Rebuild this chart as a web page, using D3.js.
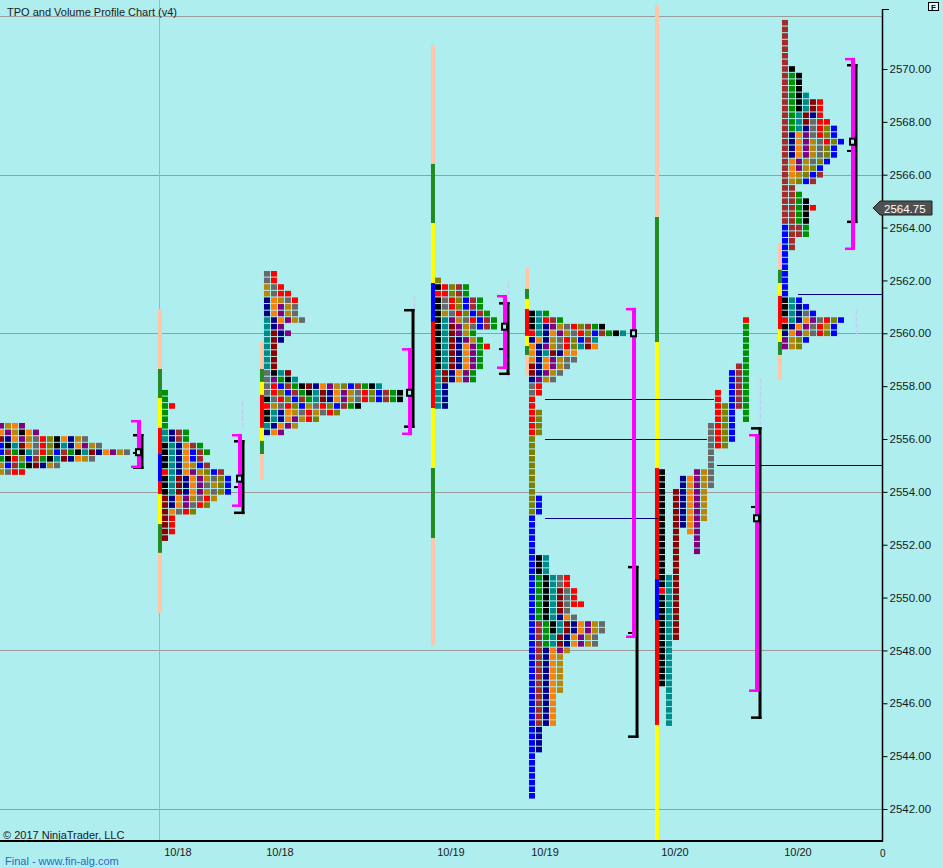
<!DOCTYPE html>
<html><head><meta charset="utf-8">
<script src="https://cdn.jsdelivr.net/npm/d3@7/dist/d3.min.js"></script>
<style>html,body{margin:0;padding:0;background:#AFEEEE;overflow:hidden}text{font-family:"Liberation Sans",Arial,sans-serif}</style>
</head><body><svg id="c" width="943" height="868"></svg>
<script>
// ---------- DATA ----------
// TPO letters: each char is one TPO period colour, '.' = empty cell
const profileA = ["PGOP","OPGKOP","MNOPGYRLKONGY","BKTMOYRLKTNOPGY","BrgKTYRLBrgKTMNOPGY","gKRLBrgKTMNOGY","GBrgKMNGY","GYRR"];
const profileB = ["g","g","gR","g","g","g","TNrg","TNrg","KTNOrg","KTNOBrg","KTNOBr","KTNOGBr","RTNOPGLBr","KTMNOPGYLB","KTMNOPYGLB","KTMNOPGYLB","MNOPGYRG","MNOPYRL","MOYRL","MR","MR","MR","M"];
const profileC = ["YR","YR","GYR","GYRR","NOGYR","NOPGY","NOPGY","TNOPGY","TNP","TMNP","TMN","TM","TM","TM","TM","YKTM","YPgKT","YRBrgKMNOPGLBrgKT","YRLBrgKTMNOPGYRLBrgK","KYRLBrgTMNOPGYRLBrgK","RGYRLBGYRLBrgK","KTNOGYRGYRL","KTNOPGRL","TNOPG","NOP"];
const profileD = ["L","KRLrg","RRLrg","KYRLBrg","KYRLBrg","KGYRLBrg","KTPGYRBrg","KTMPGYBrg","KTMPGg","KTMNPGg","KTMNOPgR","KTMNOPg","KTMNOPg","KTMNOPg","TMNOPg","TMNOPg","TN","TN","TN","TN"];
const profileE = ["KTg","KTRrg","KTNPGYRLrgK","RTNOPGYRLBrgKT","NONGYRLBrT","ONPGYRLTMO","ONTMNOO","ONOPGYY","MNOPGY","MNPGY","NPGY","YR","YR","R","R",
  "RL","RL","RL","RL","L","L","L","L","L","L","L","L","L","LB","LB","LB","B","B","B","B","B","B","BKT","BKT","BKT",
  "BgKTYR","BgKTYR","BgKTMYR","BgKTMYR","BgKTMYRR","BgKTMY","BgKTNOY","BrgKTMNOPGY","BrgKTMNOPGY","BrgTMNOPGY","BrgTMNOPGY",
  "BrNOPG","BrNOG","BrNOG","BrNOG","BrNOG","BrNOG","BrNOG","BrNO","BrNO","BrNO","BrNO","BrNO","BN","BN","BN","BN","B","B","B","B","B","B","B"];
const profileF = ["............R","............g","............g","............g","............g","............g","............g",
  "...........rg","..........Brg","..........Brg","..........Brg","........R.Brg","........R.Brg","........RLBrg","........RLB.g","........RLB.g",
  ".......YRLB",".......YRLB",".......YRLB",".......YRL",".......Y",".......Y",".......Y","K....PGY","K..NOPGY","K..NOPGY",
  "K.MNOPG","K.MNOPG","K.MNOPG","K.MNOPG","K.MNOPG","K.MNOP","K.M.OP","K.M..P","K.M..P","K.M..P","K.M","K.M","K.M",
  "KTM","KTM","RTM","KTM","KTM","KTM","KTM","KTM","KTM","KTM","KT","KT","KT","KT","KT","KT","KT",".T",".T",".T",".T",".T",".T"];
const profileG = ["r","r","r","r","r","r","r","rK","rgK","rgK","rgK","rgKT","rgKTMR","rgKTMR","rgTMNR","rgTMYRR","rgTNYRLB","rNOPYRLB","rNOPGYRLB","rNOPGYLB","rNOPGYLB",
  "rOPGYLB","rOPGLB","rOGLBr","rGLBr","rr","rrg","rrgK","rrgKR","rrgK","rrgK","Brrg","Brrg","Br","Br","B","B","B","B","B","B","B",
  "KTB","KTNB","KTNYB","RTNOPYRLB","KNOPYRGB","NOPGYRLB","PGLB","PGL"];
const profiles = [profileA, profileB, profileC, profileD, profileE, profileF, profileG];
const profileStartSlot = [-0.29, 23.14, 37.71, 62.14, 75.57, 94.14, 111.71];
const profileTopPrice = [2556.5, 2557.75, 2562.25, 2562.0, 2560.75, 2560.5, 2571.75];

// session deviation bands beside profiles (edges top->bottom, colour codes)
const bandProfile = [1, 2, 3, 4, 5, 6];
const bandEdges = [
  [2560.92,2558.65,2557.55,2556.42,2555.43,2554.41,2553.92,2552.78,2551.69,2549.42],
  [2559.67,2558.65,2558.16,2557.67,2556.42,2555.93,2555.43,2554.45],
  [2570.91,2566.41,2564.17,2561.9,2560.43,2557.17,2554.9,2552.25,2548.21],
  [2562.47,2561.68,2561.30,2560.92,2559.90,2559.52,2559.18,2558.42],
  [2572.42,2564.40,2559.67,2554.90,2550.70,2549.15,2545.18,2540.6],
  [2563.42,2562.40,2561.90,2561.41,2560.16,2559.67,2559.18,2558.23]
];
const bandColors = ["pfyRBRyfp","pfyRyfp","pfyBRyfp","pfyRyfp","pfyRBRy","pfyRyfp"];

// value area / range brackets and POC
const bracketSlot = [19.57, 34.0, 58.29, 71.86, 90.29, 107.86, 121.57];
const vaHigh = [2556.72, 2556.19, 2559.44, 2561.45, 2560.96, 2556.19, 2570.42];
const vaLow = [2554.90, 2553.43, 2556.15, 2558.65, 2548.47, 2546.43, 2563.15];
const rangeHigh = [2556.19, 2555.96, 2560.92, 2561.18, 2551.2, 2556.45, 2570.19];
const rangeLow = [2554.87, 2553.16, 2556.42, 2558.42, 2544.69, 2545.41, 2564.17];
const midTick = [2555.47, 2554.18, null, 2559.4, 2548.66, 2553.43, 2566.9];
const pocPrice = [2555.5, 2554.5, 2557.75, 2560.25, 2560.0, 2553.0, 2567.25];

// naked POC lines
const nakedPrice = [2557.5, 2556.0, 2553.0, 2555.0, 2561.5];
const nakedFrom = [77.86, 77.86, 77.86, 102.43, 114.0];
const nakedTo = [102.0, 101.0, 94.0, 126, 126];

// faint dashed lines
const ghostSlot = [34.57, 59.14, 72.57, 108.57, 122.29];
const ghostHigh = [2557.4, 2561.4, 2561.9, 2558.3, 2560.9];
const ghostLow = [2556.45, 2560.95, 2558.2, 2556.45, 2559.9];

const gridPrices = [2572, 2566, 2560, 2554, 2548, 2542];
const axisTicks = [2542,2544,2546,2548,2550,2552,2554,2556,2558,2560,2562,2564,2566,2568,2570];
const dateLabels = ["10/18","10/18","10/19","10/19","10/20","10/20"];
const dateProfile = [1,2,3,4,5,6];
const daySeparatorSlot = [22.71];
const lastPrice = 2564.75;

// ---------- STYLE ----------
const palette = {R:'#FF0000', r:'#A52A2A', M:'#8B0000', O:'#F7820A', G:'#B8860B', L:'#808000', g:'#009100',
  T:'#008B8B', N:'#00008B', B:'#0000FF', P:'#800080', Y:'#696969', K:'#000000'};
const bandPalette = {p:'#FFC6A8', f:'#228B22', y:'#FFFF00', R:'#FF0000', B:'#0000FF'};
const BG = '#AFEEEE';

const svg = d3.select('#c');
svg.append('rect').attr('width',943).attr('height',868).attr('fill',BG);

const ys = d3.scaleLinear().domain([2542, 2570]).range([809, 69]);
const xs = d3.scaleLinear().domain([0, 126]).range([0, 882]);
const tick = 0.25;
const rowH = ys(2542) - ys(2542 + tick);
const colW = xs(1) - xs(0);

svg.append('clipPath').attr('id','plot').append('rect').attr('x',0).attr('y',0).attr('width',882).attr('height',840);
const g = svg.append('g').attr('clip-path','url(#plot)');

// grid
g.selectAll('line.grid').data(gridPrices).join('line').attr('class','grid')
  .attr('x1',0).attr('x2',882).attr('y1',d=>Math.round(ys(d))+0.5).attr('y2',d=>Math.round(ys(d))+0.5)
  .attr('stroke','#9C9C9C').attr('stroke-width',1);
g.selectAll('line.sep').data(daySeparatorSlot).join('line').attr('class','sep')
  .attr('x1',d=>Math.round(xs(d))+0.5).attr('x2',d=>Math.round(xs(d))+0.5).attr('y1',0).attr('y2',841)
  .attr('stroke','#A4B4B8').attr('stroke-width',1);

// bands
bandProfile.forEach((pi, k) => {
  const x0 = xs(profileStartSlot[pi]) - 4;
  const e = bandEdges[k];
  const segs = d3.range(e.length - 1).map(i => ({top:e[i], bot:e[i+1], c:bandColors[k][i]}));
  g.append('g').selectAll('rect').data(segs).join('rect')
    .attr('x', x0).attr('width', 4)
    .attr('y', d => ys(d.top)).attr('height', d => ys(d.bot) - ys(d.top))
    .attr('fill', d => bandPalette[d.c]);
});

// TPO cells
profiles.forEach((rows, pi) => {
  const cells = [];
  rows.forEach((s, i) => {
    const price = profileTopPrice[pi] - i * tick;
    for (let j = 0; j < s.length; j++) {
      if (s[j] !== '.') cells.push({price, col:j, c:s[j]});
    }
  });
  g.append('g').selectAll('rect').data(cells).join('rect')
    .attr('x', d => xs(profileStartSlot[pi] + d.col))
    .attr('y', d => ys(d.price + tick/2) + 0.5)
    .attr('width', colW - 1)
    .attr('height', rowH - 1)
    .attr('fill', d => palette[d.c]);
});

// naked POC lines
g.selectAll('line.npoc').data(nakedPrice).join('line').attr('class','npoc')
  .attr('x1',(d,i)=>xs(nakedFrom[i])).attr('x2',(d,i)=>xs(nakedTo[i]))
  .attr('y1',d=>Math.round(ys(d))+0.5).attr('y2',d=>Math.round(ys(d))+0.5)
  .attr('stroke','#000080').attr('stroke-width',1);

// ghost dashed
g.selectAll('line.ghost').data(ghostSlot).join('line').attr('class','ghost')
  .attr('x1',d=>Math.round(xs(d))+0.5).attr('x2',d=>Math.round(xs(d))+0.5)
  .attr('y1',(d,i)=>ys(ghostHigh[i])).attr('y2',(d,i)=>ys(ghostLow[i]))
  .attr('stroke','#C4CCF4').attr('stroke-width',1.5).attr('stroke-dasharray','5,2');

// brackets
bracketSlot.forEach((s, k) => {
  const m = xs(s);
  const b = g.append('g');
  b.append('rect').attr('x', m + 3.5).attr('width', 3).attr('y', ys(rangeHigh[k])).attr('height', ys(rangeLow[k]) - ys(rangeHigh[k])).attr('fill','#000');
  b.append('rect').attr('x', m - 4).attr('width', 10.5).attr('y', ys(rangeHigh[k])).attr('height', 2.5).attr('fill','#000');
  b.append('rect').attr('x', m - 4).attr('width', 10.5).attr('y', ys(rangeLow[k]) - 2.5).attr('height', 2.5).attr('fill','#000');
  if (midTick[k] !== null) b.append('rect').attr('x', m - 4).attr('width', 5).attr('y', ys(midTick[k]) - 1).attr('height', 2).attr('fill','#000');
  b.append('rect').attr('x', m).attr('width', 4).attr('y', ys(vaHigh[k])).attr('height', ys(vaLow[k]) - ys(vaHigh[k])).attr('fill','#FF00FF');
  b.append('rect').attr('x', m - 6).attr('width', 10).attr('y', ys(vaHigh[k])).attr('height', 2.5).attr('fill','#FF00FF');
  b.append('rect').attr('x', m - 6).attr('width', 10).attr('y', ys(vaLow[k]) - 2.5).attr('height', 2.5).attr('fill','#FF00FF');
  b.append('rect').attr('x', m - 1).attr('width', 5).attr('y', ys(pocPrice[k]) - 3).attr('height', 6)
    .attr('fill', BG).attr('stroke','#000').attr('stroke-width',2);
});

// axes
svg.append('line').attr('x1',882.5).attr('x2',882.5).attr('y1',9).attr('y2',842).attr('stroke','#000').attr('stroke-width',1.5);
svg.append('line').attr('x1',882).attr('x2',889).attr('y1',9.5).attr('y2',9.5).attr('stroke','#000');
svg.append('line').attr('x1',0).attr('x2',883).attr('y1',841).attr('y2',841).attr('stroke','#000').attr('stroke-width',2);

const ax = svg.append('g').attr('transform','translate(882.5,0)')
  .call(d3.axisRight(ys).tickValues(axisTicks).tickSize(5).tickPadding(2).tickFormat(d3.format('.2f')));
ax.select('.domain').remove();
ax.selectAll('line').attr('stroke','#000');
ax.selectAll('text').attr('font-size','11.5px').attr('fill','#1a1a1a').attr('font-family','"Liberation Sans",Arial,sans-serif');

// last price marker
const ly = Math.round(ys(lastPrice));
svg.append('path').attr('d', `M873,${ly} L880,${ly-7} L932,${ly-7} L932,${ly+7} L880,${ly+7} Z`)
  .attr('fill','#505050').attr('stroke','#202020').attr('stroke-width',1);
svg.append('text').attr('x',884).attr('y',ly+4.5).text(lastPrice.toFixed(2))
  .attr('font-size','11.5px').attr('fill','#fff');

// F box
svg.append('rect').attr('x',928.5).attr('y',2.5).attr('width',10).attr('height',8).attr('fill','#DFF7F7').attr('stroke','#000').attr('stroke-width',1);
svg.append('text').attr('x',931).attr('y',10).text('F').attr('font-size','8px').attr('font-weight','bold').attr('fill','#000');

// date labels
svg.selectAll('text.date').data(dateLabels).join('text').attr('class','date')
  .attr('x',(d,i)=>xs(profileStartSlot[dateProfile[i]]) + 16).attr('y',856)
  .attr('text-anchor','middle').attr('font-size','11px').attr('fill','#1a1a1a').text(d=>d);
svg.append('text').attr('x',880).attr('y',857).text('0').attr('font-size','10px').attr('fill','#1a1a1a');

// titles
svg.append('text').attr('x',7).attr('y',16).text('TPO and Volume Profile Chart (v4)').attr('font-size','11px').attr('fill','#1a1a1a');
svg.append('text').attr('x',3).attr('y',839).text('\u00A9 2017 NinjaTrader, LLC').attr('font-size','11px').attr('fill','#1a1a1a');
svg.append('text').attr('x',5).attr('y',865).text('Final - www.fin-alg.com').attr('font-size','11px').attr('fill','#1F6CCB');
</script></body></html>
